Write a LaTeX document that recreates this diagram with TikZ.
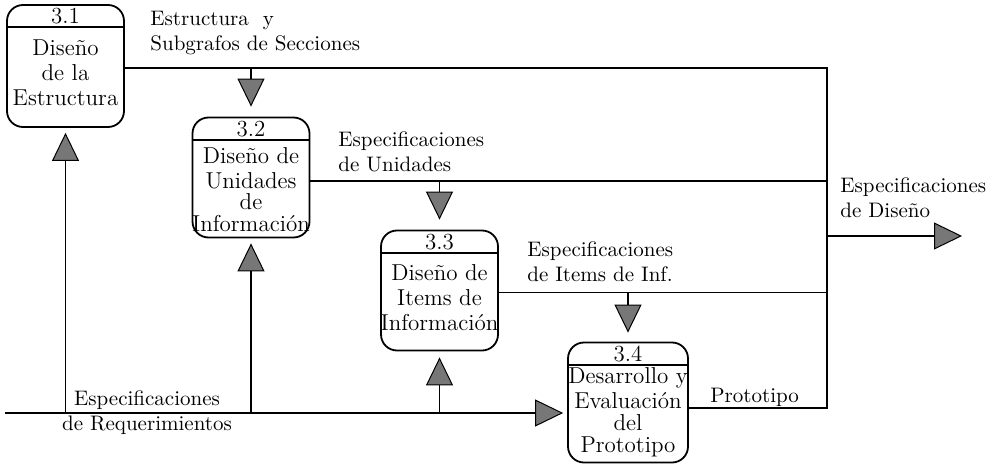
\documentclass[tikz,border=0pt]{standalone}
\usepackage{tikz}
\usetikzlibrary{arrows.meta}
\definecolor{FLgray}{HTML}{777777}
\tikzset{
  proceso/.style={draw,line width=0.9pt,rounded corners=8pt,minimum width=58.5pt,minimum height=60pt,inner sep=0pt},
  cuerpo/.style={align=center,inner sep=0pt,font=\fontsize{11.5}{12.5}\selectfont},
  numero/.style={inner sep=0pt,font=\fontsize{11.5}{12.5}\selectfont},
  etiqueta/.style={align=left,inner sep=0pt,font=\fontsize{10.5}{12.5}\selectfont},
  linea/.style={draw,line width=0.9pt},
  flecha/.style={draw,line width=0.9pt,-{Triangle[length=14pt,width=13.5pt,fill=FLgray,line width=0.5pt]}}
}

\begin{document}
\begin{tikzpicture}[x=0.5pt,y=-0.5pt]
  \useasboundingbox (0,0) rectangle (994,465);

  % procesos
  \node[proceso,minimum height=61pt] (p31) at (65.5,66) {};
  \node[proceso] (p32) at (251,177.5) {};
  \node[proceso] (p33) at (439.5,290.5) {};
  \node[proceso,minimum width=60pt] (p34) at (628,402.5) {};

  \foreach \p/\n in {p31/3.1,p32/3.2,p33/3.3,p34/3.4}{
    \draw[linea] ([yshift=-11.5pt]\p.north west) -- ([yshift=-11.5pt]\p.north east);
    \node[numero] (n\p) at ([yshift=-6pt]\p.north) {\n};
  }

  \node[cuerpo] (t31) at ([yshift=-3.5pt]p31.center) {Diseño\\de la\\Estructura};
  \node[cuerpo] (t32) at ([yshift=-6pt]p32.center) {Diseño de\\Unidades\\[-2pt]de\\[-1.5pt]Información};
  \node[cuerpo] (t33) at ([yshift=-3.5pt]p33.center) {Diseño de\\Items de\\Información};
  \node[cuerpo] (t34) at ([yshift=-5pt]p34.center) {Desarrollo y\\Evaluación\\[-1.5pt]del\\[-1.5pt]Prototipo};

  % flujos de salida
  \coordinate (dis) at (827,236);
  \coordinate (sal) at (962,236);
  \draw[linea] (p31.-2) -- (p31.-2 -| dis) -- (dis |- p34.-5) -- (p34.-5);
  \draw[linea] (p32.-3) -- (p32.-3 -| dis);
  \draw[linea] (p33.-2) -- (p33.-2 -| dis);
  \draw[flecha] (dis) -- (sal);

  \draw[flecha,shorten >=5pt] (p31.-2 -| p32.north) -- (p32.north);
  \draw[flecha,shorten >=5pt] (p32.-3 -| p33.north) -- (p33.north);
  \draw[flecha,shorten >=4.5pt] (p33.-2 -| p34.north) -- (p34.north);

  % requerimientos
  \coordinate (req) at (5,413);
  \draw[flecha,shorten >=2pt] (req) -- (req -| p34.west);
  \draw[flecha,shorten >=2.5pt] (req -| p31.south) -- (p31.south);
  \draw[flecha,shorten >=2.5pt] (req -| p32.south) -- (p32.south);
  \draw[flecha,shorten >=3pt] (req -| p33.south) -- (p33.south);

  % etiquetas
  \node[etiqueta,anchor=west] (l31) at (150,33) {Estructura\ \ y\\Subgrafos de Secciones};
  \node[etiqueta,anchor=west] (l32) at (338,152) {Especificaciones\\de Unidades};
  \node[etiqueta,anchor=west] (l33) at (527,262) {Especificaciones\\de Items de Inf.};
  \node[etiqueta,anchor=west] (ldis) at (840,198) {Especificaciones\\de Diseño};
  \node[etiqueta,anchor=west] (lpro) at (710,397) {Prototipo};
  \node[etiqueta,align=center] (lreq) at (147,413) {Especificaciones\\de Requerimientos};
\end{tikzpicture}
\end{document}
